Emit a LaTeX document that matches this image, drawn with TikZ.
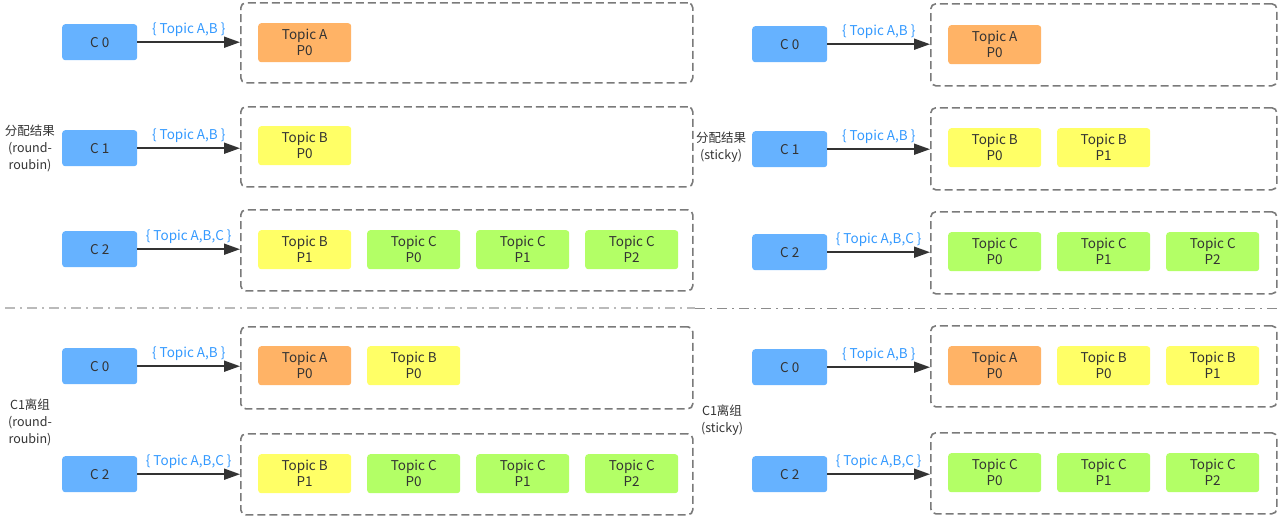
\documentclass[tikz,border=0pt]{standalone}
\usepackage{fontspec}
\setmainfont{Noto Sans CJK SC}
\usetikzlibrary{arrows.meta}
\definecolor{cblue}{HTML}{66B2FF}
\definecolor{corange}{HTML}{FFB366}
\definecolor{cyellow}{HTML}{FFFF66}
\definecolor{cgreen}{HTML}{B3FF66}
\definecolor{txt}{HTML}{333333}
\definecolor{lblue}{HTML}{3399FF}
\definecolor{grpgray}{HTML}{7A7A7A}
\tikzset{
  every node/.style={font=\fontsize{13.5}{16}\selectfont, text=txt},
  cons/.style={fill=cblue, rounded corners=3pt, minimum width=75pt, minimum height=36pt, anchor=north west, inner sep=0pt},
  part/.style={rounded corners=3pt, minimum width=93pt, minimum height=39pt, anchor=north west, inner sep=0pt, align=center},
  pA/.style={part, fill=corange},
  pB/.style={part, fill=cyellow},
  pC/.style={part, fill=cgreen},
  grp/.style={draw=grpgray, line width=1.6pt, dash pattern=on 8pt off 4pt, rounded corners=5pt, anchor=north west, inner sep=0pt},
  arr/.style={draw=txt, line width=1.8pt, -{Triangle[length=16pt,width=11pt]}},
  lab/.style={text=lblue, above=5pt, midway, inner sep=0pt},
  side/.style={align=center, inner sep=0pt, font=\fontsize{12.5}{17}\selectfont},
}
\begin{document}
\begin{tikzpicture}[x=1pt,y=-1pt]
\useasboundingbox (0,0) rectangle (1281,520);
% separator
\draw[draw=black!27, line width=1.6pt, dash pattern=on 10pt off 5pt on 2pt off 5pt] (5,308) -- (695,308);
\draw[draw=black!45, line width=1pt, dash pattern=on 10pt off 5pt on 2pt off 5pt] (695,308) -- (1281,308);

% ===== Left top =====
\node[cons] (lc0) at (62,24) {C 0};
\node[grp, minimum width=452pt, minimum height=80pt] (lg0) at (240,2) {};
\node[pA] (lp0a) at (258,23) {Topic A\\P0};
\draw[arr] (lc0.east) -- (lc0.east -| lg0.west) node[lab] {\{ Topic A,B \}};

\node[cons] (lc1) at (62,130) {C 1};
\node[grp, minimum width=452pt, minimum height=80pt] (lg1) at (240,106) {};
\node[pB] (lp1a) at (258,126) {Topic B\\P0};
\draw[arr] (lc1.east) -- (lc1.east -| lg1.west) node[lab] {\{ Topic A,B \}};

\node[cons] (lc2) at (62,231) {C 2};
\node[grp, minimum width=452pt, minimum height=81pt] (lg2) at (240,209) {};
\node[pB] (lp2a) at (258,230) {Topic B\\P1};
\node[pC] (lp2b) at (367,230) {Topic C\\P0};
\node[pC] (lp2c) at (476,230) {Topic C\\P1};
\node[pC] (lp2d) at (585,230) {Topic C\\P2};
\draw[arr] (lc2.east) -- (lc2.east -| lg2.west) node[lab] {\{ Topic A,B,C \}};

\node[side] (ls1) at (30,148) {分配结果\\(round-\\roubin)};

% ===== Left bottom =====
\node[cons] (lc3) at (62,348) {C 0};
\node[grp, minimum width=452pt, minimum height=82pt] (lg3) at (240,326) {};
\node[pA] (lp3a) at (258,346) {Topic A\\P0};
\node[pB] (lp3b) at (367,346) {Topic B\\P0};
\draw[arr] (lc3.east) -- (lc3.east -| lg3.west) node[lab] {\{ Topic A,B \}};

\node[cons] (lc4) at (62,456) {C 2};
\node[grp, minimum width=452pt, minimum height=81pt] (lg4) at (240,433) {};
\node[pB] (lp4a) at (258,454) {Topic B\\P1};
\node[pC] (lp4b) at (367,454) {Topic C\\P0};
\node[pC] (lp4c) at (476,454) {Topic C\\P1};
\node[pC] (lp4d) at (585,454) {Topic C\\P2};
\draw[arr] (lc4.east) -- (lc4.east -| lg4.west) node[lab] {\{ Topic A,B,C \}};

\node[side] (ls2) at (30,422) {C1离组\\(round-\\roubin)};

% ===== Right top =====
\node[cons] (rc0) at (752,26) {C 0};
\node[grp, minimum width=346pt, minimum height=82pt] (rg0) at (930,3) {};
\node[pA] (rp0a) at (948,25) {Topic A\\P0};
\draw[arr] (rc0.east) -- (rc0.east -| rg0.west) node[lab] {\{ Topic A,B \}};

\node[cons] (rc1) at (752,131) {C 1};
\node[grp, minimum width=346pt, minimum height=82pt] (rg1) at (930,107) {};
\node[pB] (rp1a) at (948,128) {Topic B\\P0};
\node[pB] (rp1b) at (1057,128) {Topic B\\P1};
\draw[arr] (rc1.east) -- (rc1.east -| rg1.west) node[lab] {\{ Topic A,B \}};

\node[cons] (rc2) at (752,234) {C 2};
\node[grp, minimum width=346pt, minimum height=82pt] (rg2) at (930,211) {};
\node[pC] (rp2a) at (948,232) {Topic C\\P0};
\node[pC] (rp2b) at (1057,232) {Topic C\\P1};
\node[pC] (rp2c) at (1166,232) {Topic C\\P2};
\draw[arr] (rc2.east) -- (rc2.east -| rg2.west) node[lab] {\{ Topic A,B,C \}};

\node[side] (rs1) at (721,147) {分配结果\\(sticky)};

% ===== Right bottom =====
\node[cons] (rc3) at (752,349) {C 0};
\node[grp, minimum width=346pt, minimum height=81pt] (rg3) at (930,325) {};
\node[pA] (rp3a) at (948,346) {Topic A\\P0};
\node[pB] (rp3b) at (1057,346) {Topic B\\P0};
\node[pB] (rp3c) at (1166,346) {Topic B\\P1};
\draw[arr] (rc3.east) -- (rc3.east -| rg3.west) node[lab] {\{ Topic A,B \}};

\node[cons] (rc4) at (752,456) {C 2};
\node[grp, minimum width=346pt, minimum height=81pt] (rg4) at (930,432) {};
\node[pC] (rp4a) at (948,453) {Topic C\\P0};
\node[pC] (rp4b) at (1057,453) {Topic C\\P1};
\node[pC] (rp4c) at (1166,453) {Topic C\\P2};
\draw[arr] (rc4.east) -- (rc4.east -| rg4.west) node[lab] {\{ Topic A,B,C \}};

\node[side] (rs2) at (722,420) {C1离组\\(sticky)};
\end{tikzpicture}
\end{document}
